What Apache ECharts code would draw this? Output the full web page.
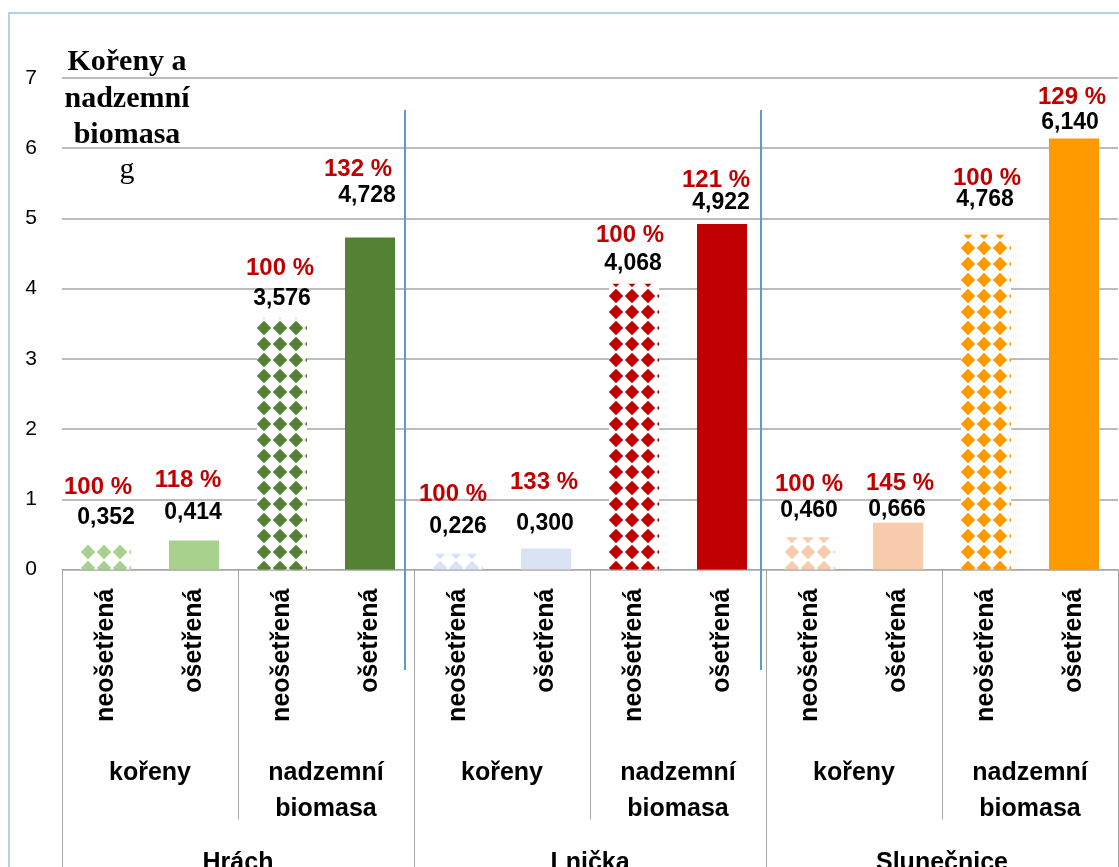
<!DOCTYPE html>
<html>
<head>
<meta charset="utf-8">
<script src="https://cdn.jsdelivr.net/npm/echarts@6/dist/echarts.min.js"></script>
<style>
html,body{margin:0;padding:0;background:#fff;}
#c{width:1119px;height:867px;}
</style>
</head>
<body>
<div id="c"></div>
<script>
// ---- data ----
const treatments = ['neošetřená','ošetřená','neošetřená','ošetřená','neošetřená','ošetřená','neošetřená','ošetřená','neošetřená','ošetřená','neošetřená','ošetřená'];
const parts = ['kořeny','nadzemní\nbiomasa','kořeny','nadzemní\nbiomasa','kořeny','nadzemní\nbiomasa'];
const plants = ['Hrách','Lnička','Slunečnice'];
const values = [0.352,0.414,3.576,4.728,0.226,0.300,4.068,4.922,0.460,0.666,4.768,6.140];
const percents = [100,118,100,132,100,133,100,121,100,145,100,129];
const yMin = 0, yMax = 7, yStep = 1;

// ---- styling (not data) ----
const barColors = ['#A9D18E','#A9D18E','#548235','#548235','#DAE3F3','#DAE3F3','#C00000','#C00000','#F8CBAD','#F8CBAD','#FF9900','#FF9900'];
// label lifts above bar top (px) and horizontal shifts
const valLift = [27,28,20,42,27,25,20,21,27,13,35,16];
const valShift = [0,-1,0,-3,0,-1,-1,-1,-1,-1,-1,-4];
const pctLift = [57,60,50,68,59,66,48,44,53,39,56,41];
const pctShift = [-8,-6,-2,-12,-5,-2,-4,-6,-1,2,1,-2];

function makePattern(color){
  const c = document.createElement('canvas');
  c.width = 16; c.height = 16;
  const g = c.getContext('2d');
  g.fillStyle = '#ffffff'; g.fillRect(0,0,16,16);
  g.fillStyle = color;
  g.beginPath();
  g.moveTo(8,0.8); g.lineTo(15.2,8); g.lineTo(8,15.2); g.lineTo(0.8,8);
  g.closePath(); g.fill();
  return {image: c, repeat: 'repeat'};
}

const fmt = v => v.toFixed(3).replace('.', ',');

const barData = values.map((v,i) => ({
  value: v,
  itemStyle: { color: i % 2 === 0 ? makePattern(barColors[i]) : barColors[i] },
  label: { offset: [valShift[i], -valLift[i]] }
}));
const pctData = values.map((v,i) => ({
  value: v,
  label: { offset: [pctShift[i], -pctLift[i]] }
}));

const SANS = '"Liberation Sans", Arial, sans-serif';
const SERIF = '"Liberation Serif", "Times New Roman", serif';

const chart = echarts.init(document.getElementById('c'), null, {renderer:'canvas'});
chart.setOption({
  animation: false,
  backgroundColor: '#fff',
  grid: { left: 62, right: 1, top: 78, bottom: 297.5, containLabel: false, outerBoundsMode: 'none' },
  xAxis: [
    {
      type: 'category', data: treatments, position: 'bottom',
      axisLine: { show: true, lineStyle: { color: '#A6A6A6', width: 1 } },
      axisTick: { show: false },
      axisLabel: { interval: 0, rotate: 90, margin: 19, color: '#000', fontFamily: SANS, fontWeight: 'bold', fontSize: 25 }
    },
    {
      type: 'category', data: parts, position: 'bottom', offset: 0,
      axisLine: { show: false },
      axisTick: { show: true, interval: (i) => i % 2 === 1, length: 250, lineStyle: { color: '#A6A6A6', width: 1 } },
      axisLabel: { interval: 0, margin: 186, color: '#000', fontFamily: SANS, fontWeight: 'bold', fontSize: 25, lineHeight: 36 }
    },
    {
      type: 'category', data: plants, position: 'bottom', offset: 0,
      axisLine: { show: false },
      axisTick: { show: true, interval: 0, length: 320, lineStyle: { color: '#A6A6A6', width: 1 } },
      axisLabel: { interval: 0, margin: 281, color: '#000', fontFamily: SANS, fontWeight: 'bold', fontSize: 25 }
    }
  ],
  yAxis: {
    type: 'value', min: yMin, max: yMax, interval: yStep,
    axisLine: { show: false }, axisTick: { show: false },
    splitLine: { show: true, lineStyle: { color: '#A6A6A6', width: 1.5 } },
    axisLabel: { margin: 25, color: '#000', fontFamily: SANS, fontSize: 21 }
  },
  series: [
    {
      type: 'bar', xAxisIndex: 0, data: barData, barWidth: 50, barGap: '-100%',
      z: 2,
      label: {
        show: true, position: 'top', distance: 0, verticalAlign: 'middle',
        formatter: p => fmt(p.value),
        color: '#000', fontFamily: SANS, fontWeight: 'bold', fontSize: 23
      }
    },
    {
      type: 'bar', xAxisIndex: 0, data: pctData, barWidth: 50, barGap: '-100%',
      silent: true, z: 1,
      itemStyle: { color: 'rgba(0,0,0,0)' },
      label: {
        show: true, position: 'top', distance: 0, verticalAlign: 'middle',
        formatter: p => percents[p.dataIndex] + ' %',
        color: '#C00000', fontFamily: SANS, fontWeight: 'bold', fontSize: 24
      }
    }
  ],
  graphic: [
    { type: 'rect', shape: { x: 9, y: 13, width: 1300, height: 1000 }, style: { fill: 'none', stroke: '#9DC3E6', lineWidth: 1.5 }, z: 0, silent: true },
    { type: 'line', shape: { x1: 405, y1: 110, x2: 405, y2: 670 }, style: { stroke: '#5B9BD5', lineWidth: 2 }, z: 10 },
    { type: 'line', shape: { x1: 761, y1: 110, x2: 761, y2: 670 }, style: { stroke: '#5B9BD5', lineWidth: 2 }, z: 10 },
    { type: 'text', style: { text: 'Kořeny a\nnadzemní\nbiomasa', x: 127, y: 99, align: 'center', verticalAlign: 'middle', font: 'bold 30px ' + SERIF, lineHeight: 36.5, fill: '#000' }, z: 10 },
    { type: 'text', style: { text: 'g', x: 127, y: 170, align: 'center', verticalAlign: 'middle', font: '30px ' + SERIF, fill: '#000' }, z: 10 }
  ]
});
</script>
</body>
</html>
